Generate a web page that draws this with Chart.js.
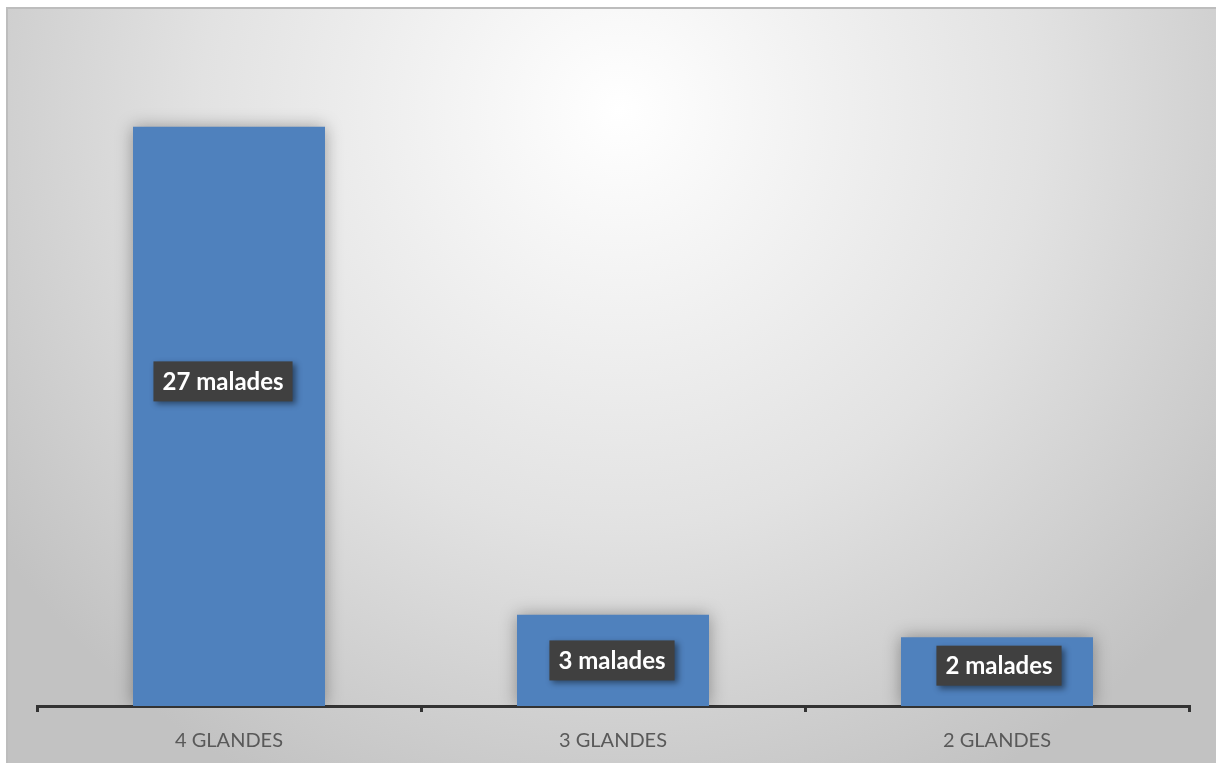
<!DOCTYPE html>
<html>
<head>
<meta charset="utf-8">
<script src="https://cdn.jsdelivr.net/npm/chart.js@4.4.1/dist/chart.umd.min.js"></script>
<style>
  html, body { margin: 0; padding: 0; background: #fff; }
  #wrap { width: 1216px; height: 765px; position: relative; }
</style>
</head>
<body>
<div id="wrap"><canvas id="myChart" width="1216" height="765"></canvas></div>
<script>
const categories = ['4 GLANDES', '3 GLANDES', '2 GLANDES']
// bar heights
const patients = [27, 4.25, 3.2]
const patientLabels = ['27 malades', '3 malades', '2 malades']

const BAR_BLUE = '#4f81bd'

// radial grey background of the chart box
const backdrop = {
  id: 'backdrop',
  beforeDraw(chart) {
    const { ctx, width, height } = chart
    ctx.save()
    ctx.fillStyle = '#fff'
    ctx.fillRect(0, 0, width, height)
    const g = ctx.createRadialGradient(620, 110, 0, 620, 110, 760)
    g.addColorStop(0, '#ffffff')
    g.addColorStop(0.55, '#e2e2e2')
    g.addColorStop(1, '#c2c2c2')
    ctx.fillStyle = g
    ctx.fillRect(6, 7, width - 6, 756)
    ctx.strokeStyle = '#bdbdbd'
    ctx.lineWidth = 2
    ctx.beginPath()
    ctx.moveTo(7, 763)
    ctx.lineTo(7, 8)
    ctx.lineTo(width, 8)
    ctx.stroke()
    ctx.restore()
  },
  beforeDatasetsDraw(chart) {
    const { ctx } = chart
    ctx.save()
    ctx.shadowColor = 'rgba(0,0,0,0.35)'
    ctx.shadowBlur = 16
  },
  afterDatasetsDraw(chart) {
    chart.ctx.restore()
  },
}

// dark callout boxes with the patient counts
const calloutLabels = {
  id: 'calloutLabels',
  afterDatasetsDraw(chart, args, opts) {
    const { ctx } = chart
    const meta = chart.getDatasetMeta(0)
    ctx.save()
    ctx.font = 'bold 24px Lato'
    ctx.textAlign = 'center'
    ctx.textBaseline = 'middle'
    meta.data.forEach((bar, i) => {
      const { x, y, base } = bar.getProps(['x', 'y', 'base'], true)
      const off = opts.offsets[i]
      const cx = x + off[0]
      const cy = (y + base) / 2 + off[1]
      const text = patientLabels[i]
      const w = ctx.measureText(text).width + 18
      const h = 40
      ctx.save()
      ctx.shadowColor = 'rgba(0,0,0,0.45)'
      ctx.shadowBlur = 6
      ctx.shadowOffsetX = 3
      ctx.shadowOffsetY = 3
      ctx.fillStyle = '#404040'
      ctx.fillRect(cx - w / 2, cy - h / 2, w, h)
      ctx.restore()
      ctx.fillStyle = '#ffffff'
      ctx.fillText(text, cx, cy + 1)
    })
    ctx.restore()
  },
}

const ctx = document.getElementById('myChart').getContext('2d')
const myChart = new Chart(ctx, {
  type: 'bar',
  data: {
    labels: categories,
    datasets: [
      {
        label: 'Malades',
        data: patients,
        backgroundColor: BAR_BLUE,
        borderWidth: 0,
        categoryPercentage: 1,
        barPercentage: 0.5,
      },
    ],
  },
  options: {
    responsive: false,
    animation: false,
    layout: {
      padding: { left: 37, right: 27, top: 41, bottom: -5 },
    },
    scales: {
      x: {
        offset: true,
        grid: {
          offset: true,
          drawOnChartArea: false,
          drawTicks: true,
          tickLength: 6,
          color: '#333333',
          lineWidth: 3,
        },
        border: { display: true, color: '#333333', width: 3 },
        ticks: {
          color: '#595959',
          padding: 17,
          font: { family: 'Lato', size: 20 },
        },
      },
      y: {
        display: false,
        min: 0,
        max: 31,
      },
    },
    plugins: {
      legend: { display: false },
      title: { display: false },
      tooltip: { enabled: false },
      calloutLabels: {
        offsets: [[-6, -35], [-1, 0], [2, -6]],
      },
    },
  },
  plugins: [backdrop, calloutLabels],
})
</script>
</body>
</html>
